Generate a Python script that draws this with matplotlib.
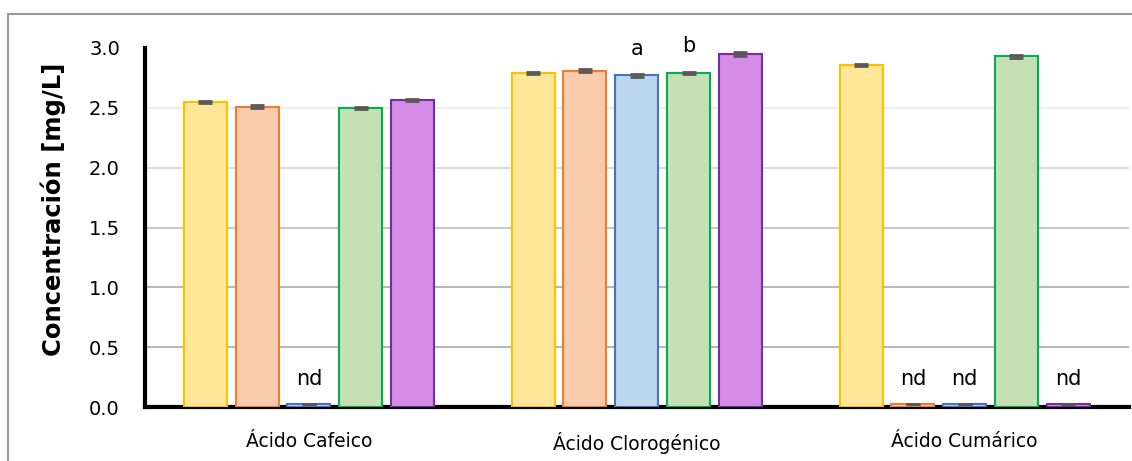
import numpy as np
import matplotlib
matplotlib.use('Agg')
from matplotlib import pyplot as plt
from matplotlib.patches import Rectangle

categories = ['Ácido Cafeico', 'Ácido Clorogénico', 'Ácido Cumárico']
s1 = [2.55, 2.79, 2.86]
s2 = [2.51, 2.81, 0.025]
s3 = [0.025, 2.77, 0.025]
s4 = [2.50, 2.79, 2.93]
s5 = [2.565, 2.95, 0.025]
e1 = [0.01, 0.01, 0.01]
e2 = [0.01, 0.01, 0.0]
e3 = [0.0, 0.01, 0.0]
e4 = [0.01, 0.01, 0.01]
e5 = [0.01, 0.02, 0.0]
labels = [['', '', ''], ['', '', 'nd'], ['nd', 'a', 'nd'], ['', 'b', ''], ['', '', 'nd']]

fills = ['#FFE699', '#F8CBAD', '#BDD7EE', '#C5E0B4', '#D68BE6']
edges = ['#FFC000', '#ED7D31', '#4472C4', '#00B050', '#7030A0']

fig = plt.figure(figsize=(11.32, 4.61), dpi=100)
ax = fig.add_axes([0.128, 0.117, 0.869, 0.779])

fig.patches.append(Rectangle((8/1132, -0.2), 1.2, 1 - 14/461 + 0.2, transform=fig.transFigure,
                             fill=False, edgecolor='#9a9a9a', linewidth=1.5))

x = np.arange(len(categories))
w = 0.131
pitch = 0.158
series = [s1, s2, s3, s4, s5]
errs = [e1, e2, e3, e4, e5]
for i, (vals, err) in enumerate(zip(series, errs)):
    pos = x + (i - 2) * pitch
    ax.bar(pos, vals, w, color=fills[i], edgecolor=edges[i], linewidth=1.5, zorder=3)
    ax.errorbar(pos, vals, yerr=err, fmt='none', ecolor='#595959', elinewidth=1.2,
                capsize=5, capthick=2, zorder=4)
    for j, lab in enumerate(labels[i]):
        if lab:
            ax.text(pos[j], vals[j] + err[j] + 0.13, lab, ha='center', va='bottom', fontsize=15)

grid_cols = ['#b8b8b8', '#b8b8b8', '#c8c8c8', '#dcdcdc', '#eeeeee']
for k, g in enumerate([0.5, 1.0, 1.5, 2.0, 2.5]):
    ax.axhline(g, color=grid_cols[k], linewidth=1.5, zorder=1)

ax.set_ylim(0, 3.0)
ax.set_xlim(-0.5, 2.5)
ax.set_yticks(np.arange(0, 3.01, 0.5))
ax.set_yticklabels([f'{v:.1f}' for v in np.arange(0, 3.01, 0.5)], fontsize=14)
ax.set_xticks(x)
ax.set_xticklabels(categories, fontsize=13.5)
ax.tick_params(axis='x', length=0, pad=18)
ax.tick_params(axis='y', length=0, pad=18)
ax.set_ylabel('Concentración [mg/L]', fontsize=17.5, fontweight='bold')
ax.yaxis.set_label_coords(-0.08, 0.55)

for s in ['top', 'right']:
    ax.spines[s].set_visible(False)
ax.spines['left'].set_linewidth(3)
ax.spines['bottom'].set_linewidth(3)

fig.savefig('out.png', dpi=100)
